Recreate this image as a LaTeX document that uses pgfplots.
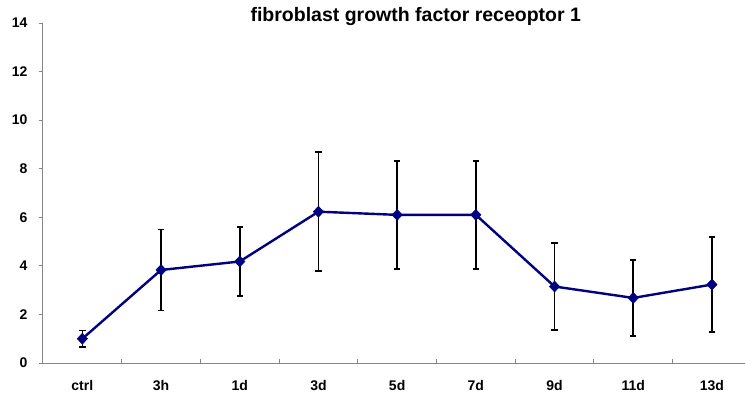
\documentclass[border=0pt]{standalone}
\usepackage{fontspec}
\setmainfont{Liberation Sans}
\usepackage{pgfplots}
\pgfplotsset{compat=1.18}
\usepackage{pgfplotstable}

\definecolor{seriesblue}{HTML}{000080}
\definecolor{axisgray}{HTML}{868686}

% time point, mean expression, error
\pgfplotstableread{
x  y     err
0  1.00  0.34
1  3.83  1.66
2  4.18  1.42
3  6.23  2.45
4  6.10  2.22
5  6.10  2.22
6  3.15  1.78
7  2.68  1.56
8  3.23  1.96
}\fgfrdata

\begin{document}
\begin{tikzpicture}
\begin{axis}[
  at={(0,0)}, anchor=south west,
  scale only axis,
  width=702pt, height=340pt,
  xmin=-0.5, xmax=8.42,
  ymin=0, ymax=14,
  ytick={0,2,...,14},
  xtick={0,...,8},
  xticklabels={ctrl,3h,1d,3d,5d,7d,9d,11d,13d},
  axis x line*=bottom,
  axis y line*=left,
  axis line style={draw=axisgray, line width=1pt, -},
  tick style={draw=axisgray, line width=1pt},
  tick align=outside,
  major tick length=4pt,
  major x tick style={draw=none},
  extra x ticks={0.5,1.5,...,7.5},
  extra x tick labels={},
  extra x tick style={tick align=inside, major tick length=4pt,
    major x tick style={draw=axisgray, line width=1pt}},
  /pgf/number format/assume math mode=true,
  tick label style={font=\fontsize{14}{16}\selectfont\bfseries, text=black},
  yticklabel style={xshift=-8pt},
  xticklabel style={yshift=-10pt},
  title={fibroblast growth factor receoptor 1},
  title style={font=\fontsize{19.5}{22}\selectfont\bfseries,
    at={(axis description cs:0.531,1)}, anchor=center, yshift=1pt},
  clip=false,
]
\addplot[
  color=seriesblue, line width=2.4pt,
  mark=diamond*, mark size=5.5pt,
  mark options={xscale=1.25, fill=seriesblue, line width=0.5pt},
  error bars/.cd, y dir=both, y explicit,
  error bar style={black, line width=1.6pt},
  error mark options={black, rotate=90, mark size=3.2pt, line width=1.6pt},
] table[x=x, y=y, y error=err] {\fgfrdata};
\end{axis}
\pgfresetboundingbox
\path[use as bounding box] (-43pt,-37pt) rectangle (702pt,363pt);
\end{tikzpicture}
\end{document}
